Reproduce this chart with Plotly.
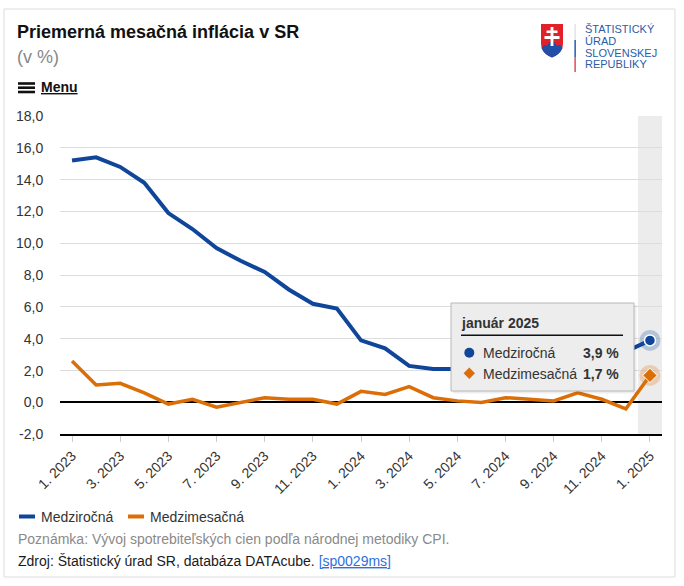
import plotly.graph_objects as go

# ---------------- data ----------------
tick_labels = ["1. 2023", "3. 2023", "5. 2023", "7. 2023", "9. 2023", "11. 2023",
               "1. 2024", "3. 2024", "5. 2024", "7. 2024", "9. 2024", "11. 2024", "1. 2025"]
months = list(range(25))  # 1.2023 ... 1.2025
yoy = [15.2, 15.4, 14.8, 13.8, 11.9, 10.9, 9.7, 8.9, 8.2, 7.1, 6.2, 5.9,
       3.9, 3.4, 2.3, 2.1, 2.1, 2.4, 2.4, 2.7, 2.9, 2.8, 3.1, 3.2, 3.9]
mom = [2.6, 1.1, 1.2, 0.6, -0.1, 0.2, -0.3, 0.0, 0.3, 0.2, 0.2, -0.1,
       0.7, 0.5, 1.0, 0.3, 0.1, 0.0, 0.3, 0.2, 0.1, 0.6, 0.2, -0.4, 1.7]
y_ticks = [-2, 0, 2, 4, 6, 8, 10, 12, 14, 16, 18]
series_names = ["Medziročná", "Medzimesačná"]
hover_label = "január 2025"

BLUE = "#0f4699"
ORANGE = "#dc6e07"
FONT = "Arial, Liberation Sans, sans-serif"
W, H = 684, 586


def PX(x):
    return x / W


def PY(y):
    return 1 - y / H


def path_px(cmds):
    out = []
    for c in cmds:
        op = c[0]
        pts = c[1:]
        s = op
        for i in range(0, len(pts), 2):
            s += " %.5f,%.5f" % (PX(pts[i]), PY(pts[i + 1]))
        out.append(s)
    return " ".join(out) + " Z"


def fmt(v):
    return ("%.1f" % v).replace(".", ",")


fig = go.Figure()

fig.add_trace(go.Scatter(x=months, y=yoy, mode="lines", name=series_names[0],
                         line=dict(color=BLUE, width=4), hoverinfo="skip", showlegend=False))
fig.add_trace(go.Scatter(x=months, y=mom, mode="lines", name=series_names[1],
                         line=dict(color=ORANGE, width=3.5), hoverinfo="skip", showlegend=False))
# hover halos + markers at last point
fig.add_trace(go.Scatter(x=[months[-1]], y=[yoy[-1]], mode="markers",
                         marker=dict(size=21, color="rgba(15,70,153,0.25)", line=dict(width=0)),
                         hoverinfo="skip", showlegend=False))
fig.add_trace(go.Scatter(x=[months[-1]], y=[mom[-1]], mode="markers",
                         marker=dict(size=21, color="rgba(220,110,7,0.25)", line=dict(width=0)),
                         hoverinfo="skip", showlegend=False))
fig.add_trace(go.Scatter(x=[months[-1]], y=[yoy[-1]], mode="markers",
                         marker=dict(size=11, color=BLUE, line=dict(width=1.5, color="white")),
                         hoverinfo="skip", showlegend=False))
fig.add_trace(go.Scatter(x=[months[-1]], y=[mom[-1]], mode="markers",
                         marker=dict(size=11, symbol="diamond", color=ORANGE, line=dict(width=1, color="white")),
                         hoverinfo="skip", showlegend=False))

shapes = []
annotations = []

# crosshair band
shapes.append(dict(type="rect", xref="x", yref="y", x0=months[-1] - 0.5, x1=months[-1] + 0.5,
                   y0=y_ticks[0], y1=y_ticks[-1], fillcolor="#ececec", line=dict(width=0), layer="below"))

# outer border
shapes.append(dict(type="rect", xref="paper", yref="paper", x0=PX(4), x1=PX(675), y0=PY(577), y1=PY(9),
                   line=dict(color="#dddddd", width=1), fillcolor="rgba(0,0,0,0)", layer="below"))


def ann(x, y, text, size=14, color="#333333", xanchor="left", family=FONT):
    annotations.append(dict(xref="paper", yref="paper", x=PX(x), y=PY(y), text=text, showarrow=False,
                            xanchor=xanchor, yanchor="middle", font=dict(size=size, color=color, family=family),
                            borderpad=0))


# title
ann(16, 32, "<b>Priemerná mesačná inflácia v SR</b>", size=18, color="#111111")
ann(16, 57, "(v %)", size=18, color="#888888")
# menu
for yy in (83.5, 87.7, 92):
    shapes.append(dict(type="rect", xref="paper", yref="paper", x0=PX(18), x1=PX(35), y0=PY(yy + 1.3),
                       y1=PY(yy - 1.3), fillcolor="#111111", line=dict(width=0)))
ann(40, 87.5, "<b><span style='text-decoration:underline'>Menu</span></b>", size=14, color="#111111")

# logo
shapes.append(dict(type="path", xref="paper", yref="paper",
                   path=path_px([("M", 541, 24), ("L", 563, 24), ("L", 563, 44), ("Q", 563, 53, 552, 57.5),
                                 ("Q", 541, 53, 541, 44)]),
                   fillcolor="#e2202a", line=dict(width=0)))
shapes.append(dict(type="path", xref="paper", yref="paper",
                   path=path_px([("M", 541.5, 48), ("Q", 544, 43.5, 547, 46), ("Q", 549.5, 41, 552, 41),
                                 ("Q", 554.5, 41, 557, 46), ("Q", 560, 43.5, 562.5, 48),
                                 ("Q", 560, 54.5, 552, 57.5), ("Q", 544, 54.5, 541.5, 48)]),
                   fillcolor="#1f4fa6", line=dict(width=0)))
for (x0, x1, y0, y1) in [(550.6, 553.4, 27, 46), (546.5, 557.5, 30.5, 33), (544.5, 559.5, 36, 39)]:
    shapes.append(dict(type="rect", xref="paper", yref="paper", x0=PX(x0), x1=PX(x1), y0=PY(y1), y1=PY(y0),
                       fillcolor="white", line=dict(width=0)))
for (y0, y1, c) in [(24, 40, "#e6e6e6"), (40, 57, "#3d6fb6"), (57, 72, "#e5626a")]:
    shapes.append(dict(type="rect", xref="paper", yref="paper", x0=PX(574.3), x1=PX(576), y0=PY(y1), y1=PY(y0),
                       fillcolor=c, line=dict(width=0)))
for yy, t in [(29.3, "ŠTATISTICKÝ"), (40.7, "ÚRAD"), (52.5, "SLOVENSKEJ"), (64, "REPUBLIKY")]:
    ann(584, yy, t, size=11, color="#2c5ca8")

# tooltip
shapes.append(dict(type="rect", xref="paper", yref="paper", x0=PX(453), x1=PX(636.5), y0=PY(393.5), y1=PY(305),
                   fillcolor="rgba(0,0,0,0.07)", line=dict(width=0), layer="above"))
shapes.append(dict(type="rect", xref="paper", yref="paper", x0=PX(451), x1=PX(634), y0=PY(391), y1=PY(303),
                   fillcolor="#ededed", line=dict(color="#b8b8b8", width=1), layer="above"))
shapes.append(dict(type="line", xref="paper", yref="paper", x0=PX(461), x1=PX(623), y0=PY(335.3), y1=PY(335.3),
                   line=dict(color="#111111", width=1.5), layer="above"))
shapes.append(dict(type="circle", xref="paper", yref="paper", x0=PX(464.3), x1=PX(474.3), y0=PY(357.7),
                   y1=PY(347.7), fillcolor=BLUE, line=dict(width=0), layer="above"))
shapes.append(dict(type="path", xref="paper", yref="paper",
                   path=path_px([("M", 469.3, 367.5), ("L", 475, 373.3), ("L", 469.3, 379), ("L", 463.6, 373.3)]),
                   fillcolor=ORANGE, line=dict(width=0), layer="above"))
ann(460, 322.5, "<b>%s</b>" % hover_label, size=14, color="#333333")
ann(482, 353, series_names[0], size=14, color="#333333")
ann(482, 373.5, series_names[1], size=14, color="#333333")
ann(620, 353, "<b>%s %%</b>" % fmt(yoy[-1]), size=14, color="#333333", xanchor="right")
ann(620, 373.5, "<b>%s %%</b>" % fmt(mom[-1]), size=14, color="#333333", xanchor="right")

# legend
shapes.append(dict(type="line", xref="paper", yref="paper", x0=PX(19), x1=PX(35), y0=PY(516.5), y1=PY(516.5),
                   line=dict(color=BLUE, width=4)))
shapes.append(dict(type="line", xref="paper", yref="paper", x0=PX(128), x1=PX(144), y0=PY(516.5), y1=PY(516.5),
                   line=dict(color=ORANGE, width=4)))
ann(40, 516.5, series_names[0], size=14, color="#333333")
ann(149, 516.5, series_names[1], size=14, color="#333333")

# notes
ann(17, 539, "Poznámka: Vývoj spotrebiteľských cien podľa národnej metodiky CPI.", size=14, color="#8a8a8a")
ann(17, 561, "Zdroj: Štatistický úrad SR, databáza DATAcube. "
             "<span style='color:#2f6fe0;text-decoration:underline'>[sp0029ms]</span>",
    size=14, color="#1a1a1a")

fig.update_layout(
    width=W, height=H,
    margin=dict(l=0, r=0, t=0, b=0),
    paper_bgcolor="white", plot_bgcolor="white",
    font=dict(family=FONT, size=14, color="#333333"),
    showlegend=False,
    shapes=shapes, annotations=annotations,
    xaxis=dict(domain=[PX(60), PX(662)], range=[-0.5, 24.5], tickmode="array",
               tickvals=months[::2], ticktext=tick_labels, tickangle=-45,
               ticks="outside", ticklen=6, tickcolor="#cccccc", tickwidth=1,
               showgrid=False, zeroline=False, showline=True, linecolor="#000000", linewidth=2,
               tickfont=dict(size=14, color="#333333"), automargin=False, fixedrange=True),
    yaxis=dict(domain=[PY(434.3), PY(116)], range=[y_ticks[0], y_ticks[-1]], tickmode="array",
               tickvals=y_ticks, ticktext=[fmt(v) for v in y_ticks],
               showgrid=True, gridcolor="#dddddd", gridwidth=1,
               zeroline=True, zerolinecolor="#000000", zerolinewidth=2,
               ticks="outside", ticklen=13, tickcolor="rgba(0,0,0,0)",
               tickfont=dict(size=14, color="#333333"), automargin=False, fixedrange=True),
)

fig.write_html("out.html", config={"displayModeBar": False},
               post_script="document.body.style.margin='0';document.body.style.overflow='hidden';")
